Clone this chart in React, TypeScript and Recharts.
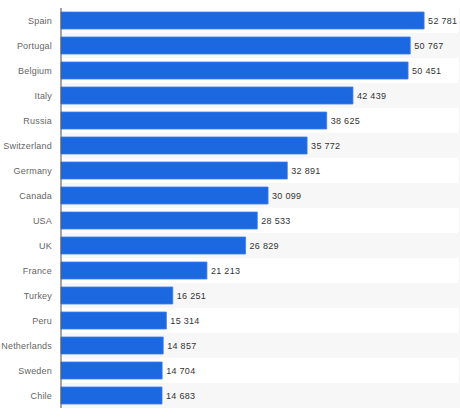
import { BarChart, Bar, XAxis, YAxis, CartesianGrid, ReferenceArea, LabelList } from 'recharts'

const countries = [
  'Spain', 'Portugal', 'Belgium', 'Italy', 'Russia', 'Switzerland', 'Germany', 'Canada',
  'USA', 'UK', 'France', 'Turkey', 'Peru', 'Netherlands', 'Sweden', 'Chile',
]
const values = [
  52781, 50767, 50451, 42439, 38625, 35772, 32891, 30099,
  28533, 26829, 21213, 16251, 15314, 14857, 14704, 14683,
]
const gridTicks = [0, 5000, 10000, 15000, 20000, 25000, 30000, 35000, 40000, 45000, 50000, 55000]

const data = countries.map((name, i) => ({ name, value: values[i] }))

const fmt = (v: any) => String(v).replace(/\B(?=(\d{3})+(?!\d))/g, ' ')

const ValueLabel = (props: any) => {
  const { x, y, width, height, value } = props
  return (
    <text
      x={x + width + 4}
      y={y + height / 2}
      dy={3.5}
      fill="#333"
      fontSize={9}
      fontFamily="Liberation Sans"
      letterSpacing={0.3}
    >
      {fmt(value)}
    </text>
  )
}

const CountryTick = (props: any) => {
  const { x, y, payload } = props
  return (
    <text x={x} y={y} dy={3.5} textAnchor="end" fill="#666" fontSize={9} fontFamily="Liberation Sans" letterSpacing={0.2}>
      {payload.value}
    </text>
  )
}

export default function App() {
  return (
    <div style={{ position: 'absolute', left: 0, top: 0, background: '#fff' }}>
      <BarChart
        width={460}
        height={417}
        data={data}
        layout="vertical"
        margin={{ top: 8, right: 0, bottom: 9, left: 0 }}
      >
        {countries.map((c, i) =>
          i % 2 === 1 ? (
            <ReferenceArea key={c} y1={c} y2={c} fill="#f7f7f7" fillOpacity={1} stroke="none" />
          ) : null
        )}
        <CartesianGrid horizontal={false} stroke="#e6e6e6" />
        <XAxis
          type="number"
          domain={[0, 58000]}
          ticks={gridTicks}
          height={0}
          tick={false}
          tickLine={false}
          axisLine={{ stroke: '#e2e2e2' }}
        />
        <YAxis
          type="category"
          dataKey="name"
          width={61}
          tickLine={false}
          axisLine={{ stroke: '#555' }}
          tickMargin={3}
          tick={<CountryTick />}
          interval={0}
        />
        <Bar dataKey="value" fill="#1b68e0" stroke="#3a7fee" strokeWidth={0.8} barSize={17} isAnimationActive={false}>
          <LabelList dataKey="value" content={<ValueLabel />} />
        </Bar>
      </BarChart>
    </div>
  )
}
